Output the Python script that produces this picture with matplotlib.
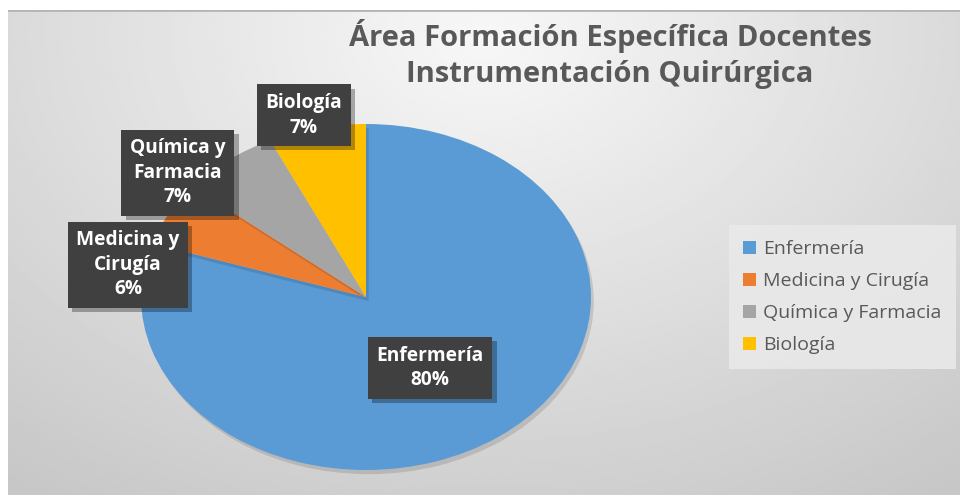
import numpy as np
import matplotlib
matplotlib.use("Agg")
import matplotlib.pyplot as plt
import matplotlib.patheffects as pe
from matplotlib.patches import Patch

# datos del gráfico
areas = ["Enfermería", "Medicina y Cirugía", "Química y Farmacia", "Biología"]
porcentajes = [80, 6, 7, 7]
etiquetas = ["Enfermería\n80%", "Medicina y\nCirugía\n6%", "Química y\nFarmacia\n7%", "Biología\n7%"]
colores = ["#5B9BD5", "#ED7D31", "#A5A5A5", "#FFC000"]
titulo = "Área Formación Específica Docentes\nInstrumentación Quirúrgica"

# posiciones de las etiquetas (coordenadas del eje de la torta)
pos_etiquetas = [(0.285, -0.41), (-1.058, 0.185), (-0.836, 0.717), (-0.276, 1.05)]

W, H = 960, 495
fig = plt.figure(figsize=(W / 100, H / 100), dpi=100)
fig.patch.set_facecolor("white")

# fondo con degradado radial
bg = fig.add_axes([8 / W, 0, (W - 8) / W, (H - 10) / H])
yy, xx = np.mgrid[0:200, 0:400]
cx, cy = 200, 10
d = np.sqrt(((xx - cx) / 330.0) ** 2 + ((yy - cy) / 230.0) ** 2)
grad = 0.97 - 0.19 * np.clip(d, 0, 1)
bg.imshow(grad, cmap="gray", vmin=0, vmax=1, aspect="auto", extent=[0, 1, 0, 1], origin="upper")
bg.axhline(1, color="#b4b4b4", lw=2)
bg.set_axis_off()

# torta
rx, ry = 225, 173
cxp, cyp = 366, 297
ax = fig.add_axes([(cxp - rx) / W, 1 - (cyp + ry) / H, 2 * rx / W, 2 * ry / H])
wedges, _ = ax.pie(porcentajes, colors=colores, startangle=90, counterclock=False,
                   radius=1, wedgeprops=dict(linewidth=0))
for w in wedges:
    w.set_path_effects([pe.SimplePatchShadow(offset=(2, -3), shadow_rgbFace="black", alpha=0.12),
                        pe.Normal()])
ax.set_aspect("auto")
ax.set_xlim(-1, 1)
ax.set_ylim(-1, 1)
ax.set_axis_off()

for txt, (x, y) in zip(etiquetas, pos_etiquetas):
    t = ax.text(x, y, txt, ha="center", va="center", fontsize=13.8, family="Open Sans",
                weight="bold", color="white", linespacing=1.3,
                bbox=dict(boxstyle="square,pad=0.45", fc="#404040", ec="none"))
    t.get_bbox_patch().set_path_effects([
        pe.SimplePatchShadow(offset=(3, -3), shadow_rgbFace="black", alpha=0.3), pe.Normal()])

fig.text(610 / W, 1 - 54 / H, titulo, ha="center", va="center", fontsize=21,
         family="Open Sans", weight="bold", color="#595959", linespacing=1.3)

handles = [Patch(facecolor=c, edgecolor="none") for c in colores]
leg = fig.legend(handles, areas, loc="center left", bbox_to_anchor=(719 / W, 1 - 297 / H),
                 frameon=True, fancybox=False, prop=dict(family="Open Sans", size=14),
                 handlelength=0.65, handleheight=0.65, handletextpad=0.35,
                 labelspacing=0.72, borderpad=0.75, labelcolor="#595959")
leg.get_frame().set_facecolor("#e9e9e9")
leg.get_frame().set_edgecolor("none")
leg.get_frame().set_alpha(0.9)

fig.savefig("out.png", dpi=100)
